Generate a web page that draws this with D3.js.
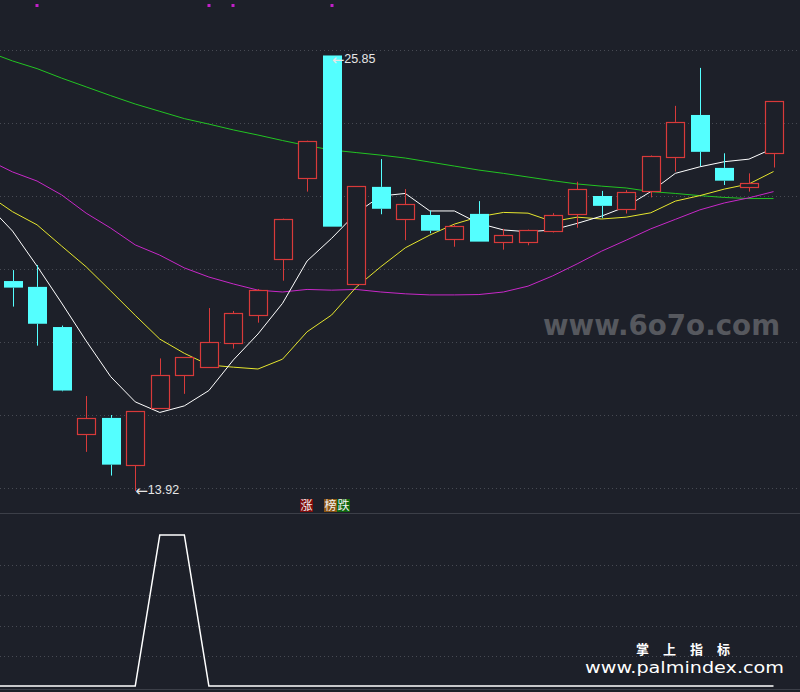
<!DOCTYPE html>
<html><head><meta charset="utf-8">
<script src="https://cdn.jsdelivr.net/npm/d3@7/dist/d3.min.js"></script>
<style>html,body{margin:0;padding:0;background:#1d2029;}svg{display:block;}</style>
</head><body><svg id="c" width="800" height="692"></svg>
<script>
// ---- data ----
const openV  = [19.67,19.51,18.41,15.47,15.92,14.64,16.20,17.09,17.32,17.97,18.73,20.28,22.48,25.85,19.58,22.25,21.36,21.48,20.83,21.51,20.73,20.75,21.05,21.52,22.00,21.64,22.15,23.08,24.22,22.77,22.25,23.19];
const highV  = [19.97,20.11,18.45,16.52,16.00,16.10,17.55,17.59,18.93,18.85,19.45,21.38,23.52,25.85,22.27,23.01,22.19,21.60,21.22,21.86,21.10,21.08,21.53,22.39,22.14,22.16,23.11,24.47,25.51,23.17,22.62,24.59];
const lowV   = [18.97,17.90,16.65,14.99,14.34,13.92,16.20,16.58,17.32,17.82,18.53,19.68,22.12,21.16,19.58,21.50,20.79,20.98,20.61,20.75,20.53,20.65,21.00,21.13,21.40,21.52,21.96,22.67,22.82,22.30,22.12,22.78];
const closeV = [19.49,18.50,16.67,15.91,14.64,16.10,17.10,17.59,17.99,18.79,19.42,21.36,23.51,21.16,22.27,21.65,21.77,21.05,21.17,20.75,20.92,21.06,21.48,22.19,21.73,22.10,23.09,24.03,23.21,22.42,22.35,24.59];
// moving averages, first value belongs to the bar before the first visible bar
const maWhite   = [21.75,21.04,20.08,19.07,18.03,17.05,16.36,16.07,16.25,16.67,17.51,18.22,19.06,20.22,20.84,21.53,22.00,22.07,21.59,21.59,21.25,21.07,21.02,21.07,21.25,21.45,21.71,22.12,22.62,22.80,22.94,23.01,23.31];
const maYellow  = [22.03,21.57,21.21,20.63,20.06,19.40,18.73,18.08,17.69,17.37,17.31,17.26,17.53,18.28,18.74,19.50,20.06,20.58,20.93,21.23,21.43,21.55,21.53,21.30,21.42,21.37,21.42,21.54,21.86,22.01,22.19,22.33,22.67];
const maMagenta = [22.99,22.66,22.41,22.03,21.53,21.12,20.66,20.38,20.03,19.78,19.59,19.42,19.37,19.44,19.42,19.44,19.37,19.32,19.29,19.29,19.30,19.37,19.53,19.81,20.14,20.49,20.79,21.10,21.36,21.62,21.81,21.95,22.12];
const maGreen   = [25.95,25.70,25.49,25.23,24.99,24.75,24.52,24.32,24.12,23.97,23.81,23.67,23.52,23.38,23.26,23.19,23.12,23.04,22.93,22.82,22.71,22.62,22.52,22.42,22.33,22.27,22.22,22.12,22.07,22.01,21.96,21.93,21.93];
const indicator = [0,0,0,0,0,0,0,100,100,0,0,0,0,0,0,0,0,0,0,0,0,0,0,0,0,0,0,0,0,0,0,0,0];
const signalBars = [1,8,9,13];
const priceTicks = [14,16,18,20,22,24,26];
const indTicks = [20,40,60,80];
const legendLabels = ["涨","榜","跌"];
const legendColors = ["#7e0c0c","#8a5412","#0f650f"];
const highLabel = "25.85", lowLabel = "13.92";

// ---- setup ----
const svg = d3.select("#c");
const W = 800;
const x = d3.scaleLinear().domain([0,31]).range([12.5,773.5]);
const y = d3.scaleLinear().domain([14,26]).range([488,50]);
const y2 = d3.scaleLinear().domain([0,100]).range([686,535]);
const UP="#d83a3a", DN="#54ffff";

svg.append("rect").attr("width",800).attr("height",692).attr("fill","#1d2029");
const defs = svg.append("defs");
defs.append("clipPath").attr("id","cp1").append("rect").attr("x",0).attr("y",0).attr("width",W).attr("height",512);
defs.append("clipPath").attr("id","cp2").append("rect").attr("x",0).attr("y",514).attr("width",W).attr("height",175);

// grid
svg.append("g").selectAll("line").data(priceTicks).join("line")
  .attr("x1",0).attr("x2",W).attr("y1",d=>Math.round(y(d))+0.5).attr("y2",d=>Math.round(y(d))+0.5)
  .attr("stroke","#474a53").attr("stroke-dasharray","1,3");
svg.append("g").selectAll("line").data(indTicks).join("line")
  .attr("x1",0).attr("x2",W).attr("y1",d=>Math.round(y2(d))+0.5).attr("y2",d=>Math.round(y2(d))+0.5)
  .attr("stroke","#474a53").attr("stroke-dasharray","1,3");
svg.append("line").attr("x1",0).attr("x2",W).attr("y1",513.5).attr("y2",513.5).attr("stroke","#3c3f48");
svg.append("line").attr("x1",0).attr("x2",W).attr("y1",689.5).attr("y2",689.5).attr("stroke","#3c3f48");

// watermark
svg.append("text").attr("x",543).attr("y",335).attr("textLength",237).attr("lengthAdjust","spacingAndGlyphs")
  .attr("font-family","DejaVu Sans").attr("font-weight","bold").attr("font-size",28).attr("fill","#56585e").text("www.6o7o.com");

// MA lines
const g1 = svg.append("g").attr("clip-path","url(#cp1)");
const line = d3.line().x((d,i)=>x(i-1)).y(d=>y(d));
[[maGreen,"#22c422"],[maMagenta,"#c828c8"],[maYellow,"#e6e62e"],[maWhite,"#ffffff"]].forEach(([arr,col])=>{
  g1.append("path").attr("d",line(arr)).attr("fill","none").attr("stroke",col).attr("stroke-width",1);
});

// candles
const bars = d3.range(openV.length).map(i=>({i,o:openV[i],h:highV[i],l:lowV[i],c:closeV[i]}));
const bw = 19;
const cg = g1.append("g");
bars.forEach(b=>{
  const up = b.c > b.o;
  const cx = Math.round(x(b.i))+0.5;
  const top = y(Math.max(b.o,b.c)), bot = y(Math.min(b.o,b.c));
  const col = up?UP:DN;
  cg.append("line").attr("x1",cx).attr("x2",cx).attr("y1",y(b.h)).attr("y2",top).attr("stroke",col);
  cg.append("line").attr("x1",cx).attr("x2",cx).attr("y1",bot).attr("y2",y(b.l)).attr("stroke",col);
  if(up){
    cg.append("rect").attr("x",cx-9).attr("y",Math.round(top)+0.5).attr("width",bw-1).attr("height",Math.max(1,Math.round(bot)-Math.round(top)))
      .attr("fill","#1d2029").attr("stroke",UP).attr("stroke-width",1.2);
  } else {
    cg.append("rect").attr("x",cx-9.5).attr("y",top).attr("width",bw).attr("height",Math.max(1,bot-top)).attr("fill",DN);
  }
});

// high / low labels
const hiIdx = highV.indexOf(d3.max(highV)), loIdx = lowV.indexOf(d3.min(lowV));
function extLabel(xp, yp, label){
  const t = svg.append("text").attr("x",xp).attr("y",yp).attr("dominant-baseline","middle")
    .attr("font-size",12.5).attr("fill","#e6e6e6");
  t.append("tspan").attr("font-family","DejaVu Sans").attr("font-size",15).text("←");
  t.append("tspan").attr("font-family","Liberation Sans, Arial").attr("font-size",12.5).text(label);
}
extLabel(x(hiIdx), y(highV[hiIdx])+5, highLabel);
extLabel(x(loIdx), y(lowV[loIdx])+0.5, lowLabel);

// signal dots
svg.append("g").selectAll("rect").data(signalBars).join("rect")
  .attr("x",d=>Math.round(x(d))-1.5).attr("y",4).attr("width",3).attr("height",3).attr("fill","#c21fc9");

// legend
const lx = [300,324,337];
legendLabels.forEach((t,k)=>{
  svg.append("rect").attr("x",lx[k]).attr("y",499).attr("width",13).attr("height",13).attr("fill",legendColors[k]);
  svg.append("text").attr("x",lx[k]+6.5).attr("y",510).attr("text-anchor","middle")
    .attr("font-family","Noto Sans CJK SC").attr("font-size",12).attr("fill","#f2f2f2").text(t);
});

// indicator panel
const g2 = svg.append("g").attr("clip-path","url(#cp2)");
g2.append("path").attr("d",d3.line().x((d,i)=>x(i-1)).y(d=>y2(d))(indicator))
  .attr("fill","none").attr("stroke","#ffffff").attr("stroke-width",1.5);

// site marks
svg.append("text").attr("x",636).attr("y",654).attr("font-family","Noto Sans CJK SC").attr("font-weight","bold")
  .attr("font-size",13).attr("fill","#ffffff").attr("letter-spacing",14).text("掌上指标");
svg.append("text").attr("x",585).attr("y",673).attr("textLength",199).attr("lengthAdjust","spacingAndGlyphs")
  .attr("font-family","DejaVu Sans").attr("font-size",16).attr("fill","#ffffff").text("www.palmindex.com");
</script></body></html>
